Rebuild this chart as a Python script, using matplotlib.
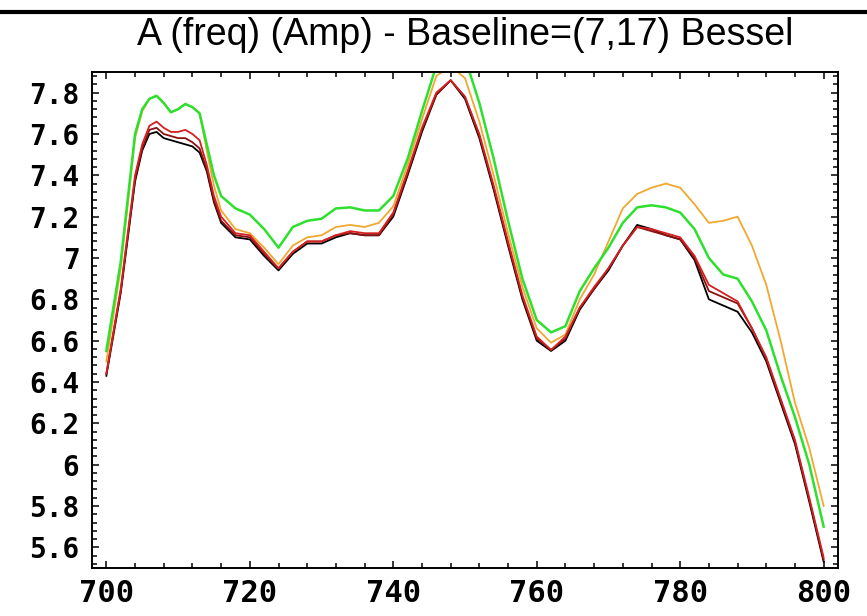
import matplotlib
matplotlib.use("Agg")
import matplotlib.pyplot as plt
from matplotlib.lines import Line2D
from matplotlib.ticker import MultipleLocator, FormatStrFormatter

freq = [700, 702, 704, 705, 706, 707, 708, 709, 710, 711, 712, 713, 714, 715, 716,
        718, 720, 722, 724, 726, 728, 730, 732, 734, 736, 738, 740, 742, 744, 746,
        748, 750, 752, 754, 756, 758, 760, 762, 764, 766, 768, 770, 772, 774, 776,
        778, 780, 782, 784, 786, 788, 790, 792, 794, 796, 798, 800]

amp_black = [6.43, 6.83, 7.37, 7.52, 7.60, 7.61, 7.58, 7.57, 7.56, 7.55, 7.54, 7.51, 7.42, 7.27, 7.17,
             7.10, 7.09, 7.01, 6.94, 7.02, 7.07, 7.07, 7.10, 7.12, 7.11, 7.11, 7.20, 7.40, 7.61, 7.79,
             7.86, 7.77, 7.58, 7.33, 7.06, 6.80, 6.60, 6.55, 6.60, 6.75, 6.85, 6.94, 7.06, 7.16, 7.14,
             7.11, 7.09, 6.99, 6.80, 6.77, 6.74, 6.64, 6.50, 6.30, 6.10, 5.82, 5.53]

amp_darkred = [6.44, 6.84, 7.38, 7.53, 7.62, 7.63, 7.60, 7.59, 7.58, 7.58, 7.56, 7.53, 7.43, 7.28, 7.18,
               7.11, 7.10, 7.02, 6.95, 7.03, 7.08, 7.08, 7.11, 7.12, 7.11, 7.11, 7.21, 7.41, 7.62, 7.79,
               7.86, 7.78, 7.59, 7.34, 7.07, 6.81, 6.61, 6.555, 6.61, 6.76, 6.85, 6.95, 7.06, 7.15, 7.13,
               7.11, 7.09, 7.00, 6.84, 6.81, 6.78, 6.66, 6.51, 6.31, 6.11, 5.83, 5.54]

amp_red = [6.44, 6.85, 7.40, 7.55, 7.64, 7.66, 7.63, 7.61, 7.61, 7.62, 7.60, 7.57, 7.45, 7.30, 7.20,
           7.12, 7.11, 7.03, 6.95, 7.03, 7.08, 7.08, 7.11, 7.13, 7.12, 7.12, 7.22, 7.42, 7.63, 7.80,
           7.86, 7.78, 7.60, 7.35, 7.08, 6.82, 6.62, 6.555, 6.62, 6.76, 6.86, 6.95, 7.06, 7.15, 7.14,
           7.12, 7.10, 7.01, 6.87, 6.83, 6.79, 6.66, 6.52, 6.32, 6.12, 5.84, 5.55]

amp_orange = [6.50, 6.95, 7.58, 7.71, 7.77, 7.785, 7.75, 7.705, 7.72, 7.745, 7.73, 7.70, 7.52, 7.35, 7.23,
              7.14, 7.12, 7.05, 6.97, 7.06, 7.10, 7.11, 7.15, 7.16, 7.15, 7.17, 7.25, 7.45, 7.67, 7.88,
              7.93, 7.87, 7.66, 7.40, 7.12, 6.86, 6.66, 6.59, 6.63, 6.80, 6.92, 7.08, 7.24, 7.31, 7.34,
              7.36, 7.34, 7.26, 7.17, 7.18, 7.20, 7.06, 6.87, 6.60, 6.30, 6.08, 5.80]

amp_green = [6.55, 6.98, 7.60, 7.72, 7.77, 7.785, 7.75, 7.705, 7.72, 7.745, 7.73, 7.70, 7.55, 7.40, 7.30,
             7.24, 7.21, 7.14, 7.05, 7.15, 7.18, 7.19, 7.24, 7.245, 7.23, 7.23, 7.30, 7.48, 7.71, 7.93,
             8.00, 7.97, 7.75, 7.48, 7.18, 6.90, 6.70, 6.64, 6.67, 6.84, 6.95, 7.05, 7.17, 7.245, 7.255,
             7.245, 7.22, 7.14, 7.00, 6.92, 6.90, 6.79, 6.65, 6.43, 6.23, 6.00, 5.70]

title = "A (freq) (Amp) - Baseline=(7,17) Bessel"

fig = plt.figure(figsize=(8.67, 6.16), dpi=100)
ax = fig.add_axes([92 / 867, 1 - 568 / 616, (838 - 92) / 867, (568 - 72) / 616])

ax.plot(freq, amp_orange, color="#f0a830", lw=1.3)
ax.plot(freq, amp_green, color="#2ee02e", lw=1.8)
ax.plot(freq, amp_black, color="black", lw=1.3)
ax.plot(freq, amp_darkred, color="#8b1010", lw=1.3)
ax.plot(freq, amp_red, color="#d42020", lw=1.3)

ax.set_xlim(698, 802)
ax.set_ylim(5.5, 7.9)

ax.xaxis.set_major_locator(MultipleLocator(20))
ax.xaxis.set_minor_locator(MultipleLocator(4))
ax.yaxis.set_major_locator(MultipleLocator(0.2))
ax.yaxis.set_minor_locator(MultipleLocator(0.04))
ax.yaxis.set_major_formatter(FormatStrFormatter("%g"))

ax.tick_params(which="both", direction="in", top=True, right=True, width=1.1)
ax.tick_params(which="major", length=5)
ax.tick_params(which="minor", length=3.5)
ax.tick_params(axis="y", which="major", pad=9)
ax.tick_params(axis="x", which="major", pad=8)
for lab in ax.get_yticklabels():
    lab.set_fontfamily("DejaVu Sans Mono")
    lab.set_fontweight("bold")
    lab.set_fontsize(20)
for lab in ax.get_xticklabels():
    lab.set_fontfamily("DejaVu Sans Mono")
    lab.set_fontweight("bold")
    lab.set_fontsize(22)
for s in ax.spines.values():
    s.set_linewidth(1.4)

fig.text(465 / 867, 1 - 35 / 616, title, ha="center", va="center",
         fontsize=27, family="Liberation Sans")
fig.add_artist(Line2D([0, 1], [1 - 12 / 616, 1 - 12 / 616], color="black", lw=3,
                      transform=fig.transFigure))

fig.savefig("out.png", dpi=100)
